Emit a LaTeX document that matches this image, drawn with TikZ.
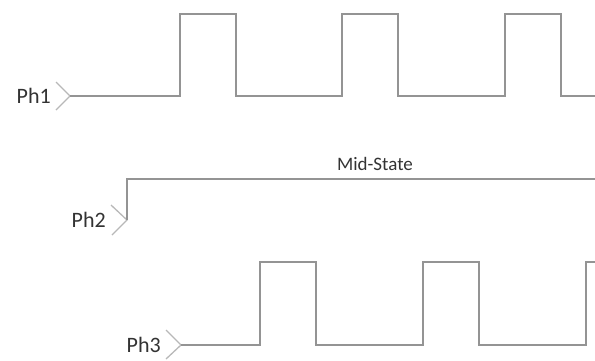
\documentclass[tikz,border=0pt]{standalone}
\usepackage{fontspec}
\setmainfont{Carlito}
\begin{document}
\begin{tikzpicture}[x=1pt,y=-1pt,
  wave/.style={draw=black!42,line width=1.3pt},
  chev/.style={draw=black!28,line width=1.3pt},
  every node/.style={text=black!80,inner sep=0pt,font=\fontsize{22}{26}\selectfont}]
  \useasboundingbox (0,0) rectangle (595,360);
  \clip (0,0) rectangle (595,360);
  % phase labels and their chevrons
  \node[anchor=east] (ph1) at (51,96) {Ph1};
  \node[anchor=east] (ph2) at (106,220) {Ph2};
  \node[anchor=east] (ph3) at (161,345) {Ph3};
  \coordinate (tip1) at (70,96);
  \coordinate (tip2) at (127,220);
  \coordinate (tip3) at (181,345);
  \draw[chev] (56,82) -- (tip1) -- (56,110);
  \draw[chev] (111,205) -- (tip2) -- (112,235);
  \draw[chev] (166,330) -- (tip3) -- (166,359);
  % Ph1 clock
  \draw[wave] (tip1) \foreach \x in {180,342,505} {-- (\x,96) -- (\x,14) -- (\x+56,14) -- (\x+56,96)} -- (600,96);
  % Ph2 held at mid level
  \draw[wave] (tip2) -- (127,179) -- (600,179);
  \node[font=\fontsize{19}{22}\selectfont] (mid) at (375,164) {Mid-State};
  % Ph3 clock
  \draw[wave] (tip3) \foreach \x in {260,423,586} {-- (\x,345) -- (\x,262) -- (\x+56,262) -- (\x+56,345)} -- (700,345);
\end{tikzpicture}
\end{document}
